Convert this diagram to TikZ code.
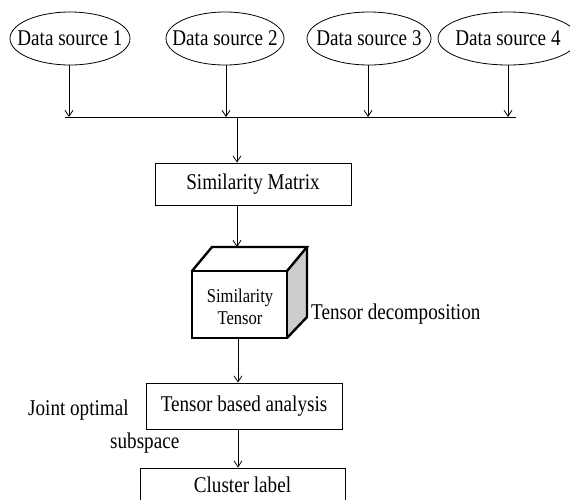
\documentclass[tikz,border=0pt]{standalone}
\usepackage{fontspec}
\setmainfont[FakeStretch=0.85]{Liberation Serif}
\usetikzlibrary{arrows.meta,shapes.geometric}
\begin{document}
\begin{tikzpicture}[x=1pt,y=-1pt,
  txt/.style={font=\fontsize{22.5}{24}\selectfont, inner sep=0pt},
  src/.style={ellipse, draw, line width=0.8pt, inner sep=0pt, minimum height=53},
  box/.style={rectangle, draw, line width=0.8pt, txt, minimum width=196, minimum height=42},
  ln/.style={line width=0.8pt},
  arr/.style={ln, -{Straight Barb[length=6pt,width=8pt]}},
  cubeline/.style={line width=2.4pt, line join=miter}
]
\useasboundingbox (0,0) rectangle (570,499);
\clip (0,0) rectangle (570,499);

% data sources
\node[src, minimum width=120] (ds1) at (70,38.5) {};
\node[src, minimum width=118] (ds2) at (225,38.5) {};
\node[src, minimum width=124] (ds3) at (369,38.5) {};
\node[src, minimum width=140] (ds4) at (508,38.5) {};
\node[txt] (ds1t) at (ds1.center) {Data source 1};
\node[txt] (ds2t) at (ds2.center) {Data source 2};
\node[txt] (ds3t) at (ds3.center) {Data source 3};
\node[txt] (ds4t) at (ds4.center) {Data source 4};

% bus
\coordinate (busL) at (65,117);
\coordinate (busR) at (516,117);
\coordinate (busM) at (237,117);
\coordinate (j1) at (69,117);
\coordinate (j2) at (226,117);
\coordinate (j3) at (368,117);
\coordinate (j4) at (508,117);
\draw[ln] (busL) -- (busR);
\draw[arr] (j1 |- ds1.south) -- (j1);
\draw[arr] (j2 |- ds2.south) -- (j2);
\draw[arr] (j3 |- ds3.south) -- (j3);
\draw[arr] (j4 |- ds4.south) -- (j4);

% similarity matrix
\node[box] (sim) at (253,184) {Similarity Matrix};
\draw[arr] (busM) -- (busM |- sim.north);

% cube
\coordinate (ftl) at (192,271);
\coordinate (ftr) at (287,271);
\coordinate (fbr) at (287,338);
\coordinate (fbl) at (192,338);
\coordinate (btl) at (212,247);
\coordinate (btr) at (307,247);
\coordinate (bbr) at (307,317);
\coordinate (cubetop) at (237,247);
\coordinate (cubebot) at (238,338);
\fill[white] (ftl) -- (btl) -- (btr) -- (ftr) -- cycle;
\fill[gray!40] (ftr) -- (btr) -- (bbr) -- (fbr) -- cycle;
\draw[cubeline] (ftl) -- (btl) -- (btr) -- (ftr);
\draw[cubeline] (btr) -- (bbr) -- (fbr);
\draw[cubeline] (ftl) rectangle (fbr);
\node[font=\fontsize{19.5}{21}\selectfont, align=center, inner sep=0pt] (tensor) at (240,307) {Similarity\\[1pt]Tensor};
\node[txt, anchor=west] (decomp) at (311,314) {Tensor decomposition};
\draw[arr] (sim.south -| cubetop) -- (cubetop);

% tensor based analysis
\node[box, minimum height=46] (tba) at (244,406) {Tensor based analysis};
\draw[arr] (cubebot) -- (cubebot |- tba.north);
\node[txt, anchor=west] (joint) at (28,410) {Joint optimal};
\node[txt, anchor=west] (subsp) at (110,443) {subspace};

% cluster label
\node[box, minimum width=205, minimum height=34] (clu) at (242.5,485) {Cluster label};
\draw[arr] (tba.south -| cubebot) -- (cubebot |- clu.north);
\end{tikzpicture}
\end{document}
